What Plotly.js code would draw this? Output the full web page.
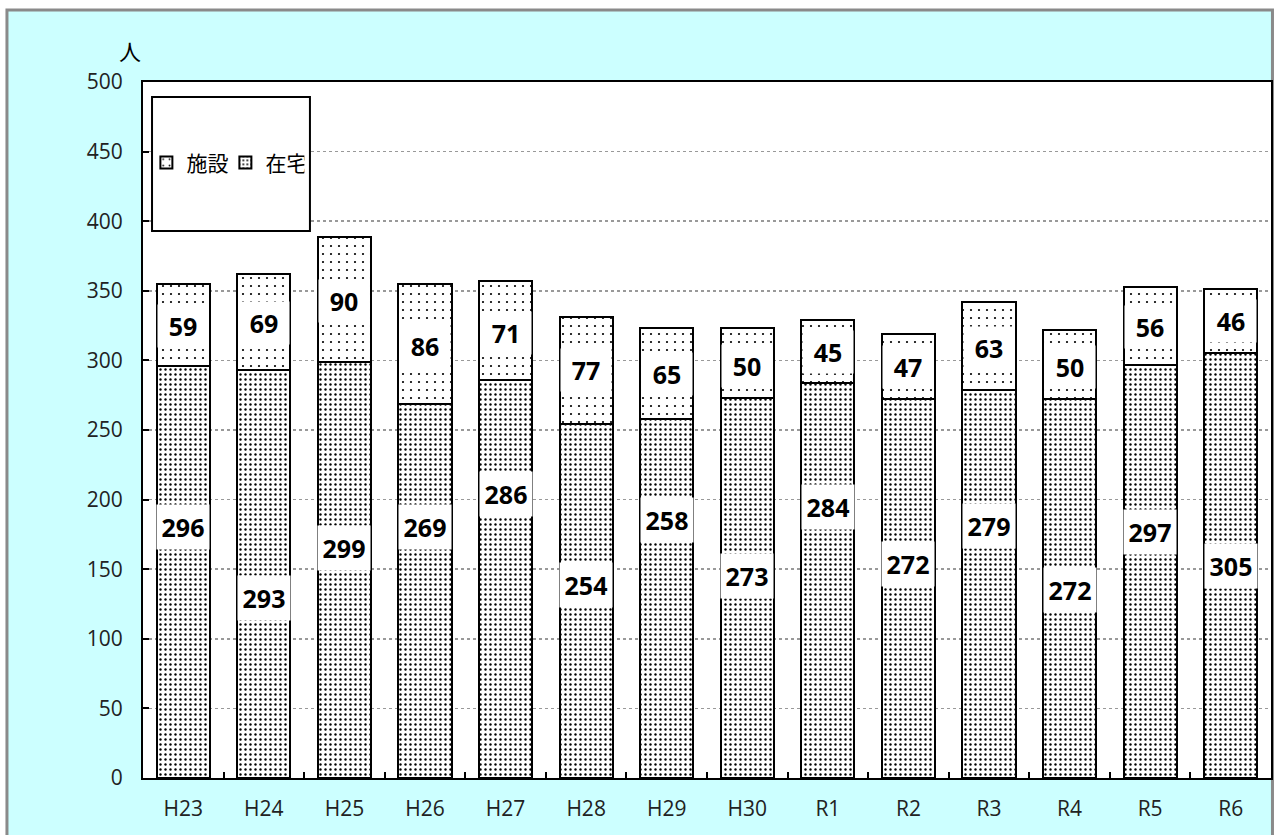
<!DOCTYPE html>
<html>
<head>
<meta charset="utf-8">
<script src="https://cdn.plot.ly/plotly-3.0.1.min.js"></script>
<style>html,body{margin:0;padding:0;background:#fff;}#chart{width:1274px;height:835px;}</style>
</head>
<body>
<div id="chart"></div>
<script>
// ---- data ----
const categories = ["H23","H24","H25","H26","H27","H28","H29","H30","R1","R2","R3","R4","R5","R6"];
const zaitaku = [296,293,299,269,286,254,258,273,284,272,279,272,297,305];   // 在宅 (bottom)
const shisetsu = [59,69,90,86,71,77,65,50,45,47,63,50,56,46];               // 施設 (top)
const yTicks = [0,50,100,150,200,250,300,350,400,450,500];
// label placement (y in data units)
const zaitakuLabelY = [180,129,165,180,204,139,185,145,195,154,181,135,177,152];
const shisetsuLabelY = [325,327,343,310,320,293,290,296,306,295,309,295,324,328];

const FONT = "'Open Sans', 'Noto Sans CJK JP', sans-serif";

const traces = [
  {
    type: 'bar', name: '在宅', x: categories, y: zaitaku,
    marker: {color: 'white', line: {color: 'black', width: 2},
      pattern: {shape: '.', size: 5, solidity: 0.18, fgcolor: 'black', bgcolor: 'white'}},
    hoverinfo: 'skip'
  },
  {
    type: 'bar', name: '施設', x: categories, y: shisetsu,
    marker: {color: 'white', line: {color: 'black', width: 2},
      pattern: {shape: '.', size: 8, solidity: 0.06, fgcolor: 'black', bgcolor: 'white'}},
    hoverinfo: 'skip'
  }
];

const annotations = [];
categories.forEach((c, i) => {
  annotations.push({x: c, y: zaitakuLabelY[i], xref: 'x', yref: 'y', text: String(zaitaku[i]),
    showarrow: false, bgcolor: 'white', width: 50, height: 42,
    font: {family: FONT, size: 25, color: 'black', weight: 'bold'}});
  annotations.push({x: c, y: shisetsuLabelY[i], xref: 'x', yref: 'y', text: String(shisetsu[i]),
    showarrow: false, bgcolor: 'white', width: 48, height: 40,
    font: {family: FONT, size: 25, color: 'black', weight: 'bold'}});
});
annotations.push({x: -0.023, y: 1.072, xref: 'paper', yref: 'paper', text: '人', showarrow: false,
  font: {family: "'Noto Sans CJK JP', sans-serif", size: 22, color: 'black'}});

const layout = {
  width: 1274, height: 835,
  margin: {l: 143, r: 3, t: 82, b: 57},
  paper_bgcolor: 'white',
  plot_bgcolor: 'rgba(0,0,0,0)',
  barmode: 'stack',
  bargap: 0.34,
  showlegend: true,
  legend: {orientation: 'h', traceorder: 'reversed', x: 0.003, y: 0.884, xanchor: 'left', yanchor: 'middle',
    bgcolor: 'rgba(0,0,0,0)', font: {family: "'Noto Sans CJK JP', sans-serif", size: 21, color: 'black'},
    itemwidth: 30, entrywidth: 34, tracegroupgap: 0},
  xaxis: {
    type: 'category', tickson: 'boundaries', ticks: 'inside', ticklen: 6, tickwidth: 2, tickcolor: 'black',
    showline: true, linecolor: 'black', linewidth: 2, mirror: true, showgrid: false,
    tickfont: {family: FONT, size: 21, color: '#222'}, ticklabelstandoff: 11, fixedrange: true
  },
  yaxis: {
    range: [0, 500], tickvals: yTicks, ticks: 'inside', ticklen: 6, tickwidth: 2, tickcolor: 'black',
    showline: true, linecolor: 'black', linewidth: 2, mirror: true,
    showgrid: true, gridcolor: '#999', griddash: 'dot', gridwidth: 1.5, zeroline: false,
    tickfont: {family: FONT, size: 21, color: '#222'}, ticklabelstandoff: 14, fixedrange: true
  },
  shapes: [
    {type: 'rect', xref: 'paper', yref: 'paper', x0: -0.1206, x1: 1.0013, y0: -0.3, y1: 1.1034,
      fillcolor: '#CCFFFF', line: {color: '#8a8a8a', width: 3}, layer: 'below'},
    {type: 'rect', xref: 'paper', yref: 'paper', x0: 0, x1: 1, y0: 0, y1: 1,
      fillcolor: 'white', line: {width: 0}, layer: 'below'},
    {type: 'rect', xref: 'paper', yref: 'paper', x0: 0.008, x1: 0.148, y0: 0.7859, y1: 0.9784,
      fillcolor: 'white', line: {color: 'black', width: 2}, layer: 'above'}
  ],
  annotations: annotations
};

Plotly.newPlot('chart', traces, layout, {displayModeBar: false, staticPlot: true});
</script>
</body>
</html>
